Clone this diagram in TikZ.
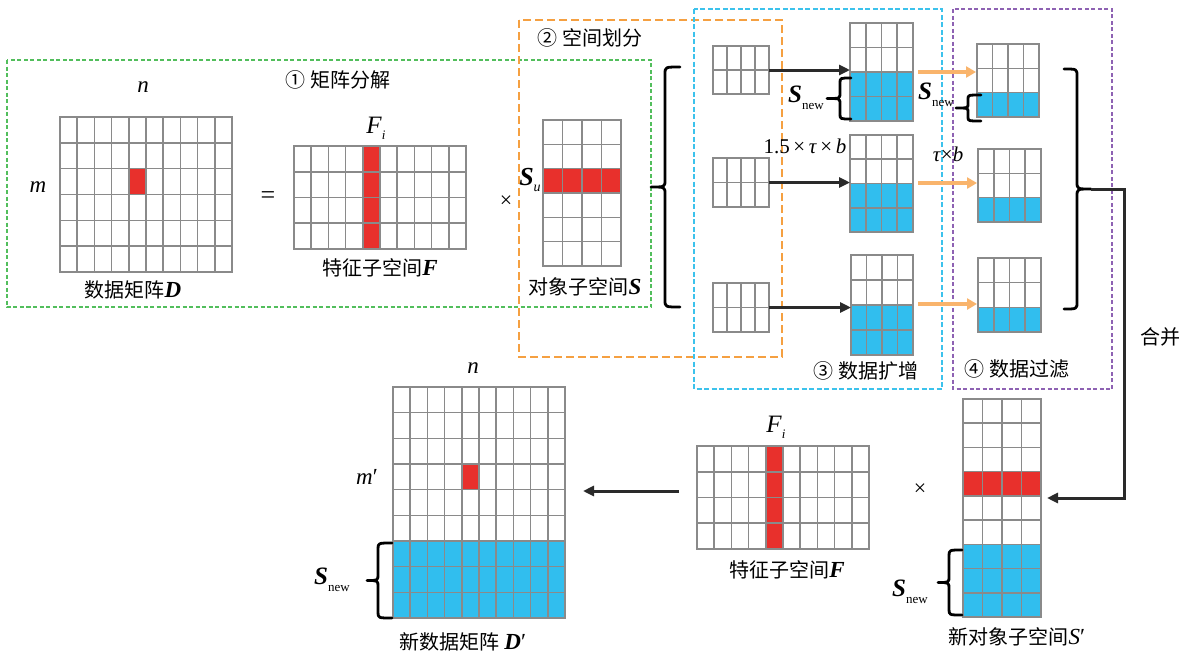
\documentclass[tikz,border=0pt]{standalone}
\usepackage{fontspec}
\setmainfont{Liberation Serif}
\newfontfamily\cjk{Noto Sans CJK SC}
\usetikzlibrary{arrows.meta}
\definecolor{cred}{HTML}{E8302C}
\definecolor{cblue}{HTML}{31BEEE}
\definecolor{gridgray}{HTML}{8A8A8A}
\definecolor{dgreen}{HTML}{52BE5C}
\definecolor{dorange}{HTML}{F5A041}
\definecolor{dcyan}{HTML}{3CC2EC}
\definecolor{dpurple}{HTML}{8E62B3}
\definecolor{aorange}{HTML}{F9B46C}
\definecolor{ablack}{HTML}{2A2A2A}
\tikzset{
  matbox/.style={draw=gridgray, line width=1.6pt, inner sep=0pt, outer sep=0pt},
  gridline/.style={draw=gridgray, line width=1.6pt},
  bracestroke/.style={draw=black, line width=2.8pt, line cap=round, line join=round},
  blk/.style={draw=ablack, line width=3pt, -{Triangle[length=11pt,width=10pt]}},
  org/.style={draw=aorange, line width=3.6pt, -{Triangle[length=10pt,width=11pt]}},
  lbl/.style={inner sep=0pt, anchor=center},
}
\newcommand\setgrid[6]{\def\gxa{#1}\def\gya{#2}\def\gxb{#3}\def\gyb{#4}\def\gnc{#5}\def\gnr{#6}%
  \pgfmathsetmacro\gcw{(#3-#1)/#5}\pgfmathsetmacro\gch{(#4-#2)/#6}}
\newcommand\cells[5]{\fill[#1] ({\gxa+#2*\gcw},{\gya+#3*\gch}) rectangle ({\gxa+(#4+1)*\gcw},{\gya+(#5+1)*\gch});}
\newcommand\drawgrid[1]{%
  \pgfmathsetmacro\gW{\gxb-\gxa}\pgfmathsetmacro\gH{\gyb-\gya}%
  \node[matbox, minimum width=\gW pt, minimum height=\gH pt] (#1) at ({(\gxa+\gxb)/2},{(\gya+\gyb)/2}) {};
  \pgfmathtruncatemacro\gcm{\gnc-1}\pgfmathtruncatemacro\grm{\gnr-1}%
  \foreach \i in {1,...,\gcm}{\draw[gridline] ({\gxa+\i*\gcw},\gya) -- ({\gxa+\i*\gcw},\gyb);}
  \foreach \j in {1,...,\grm}{\draw[gridline] (\gxa,{\gya+\j*\gch}) -- (\gxb,{\gya+\j*\gch});}
}
% brace: tipx, vx, endx, y0, y1, r
\newcommand\brc[6]{\pgfmathsetmacro\bym{(#4+#5)/2}%
  \draw[bracestroke] (#3,#4) .. controls (#2,#4) .. (#2,#4+#6) -- (#2,\bym-#6) .. controls (#2,\bym) .. (#1,\bym)
    .. controls (#2,\bym) .. (#2,\bym+#6) -- (#2,#5-#6) .. controls (#2,#5) .. (#3,#5);}
\newcommand\bS{\textbf{\textit{S}}}
\newcommand\Snew{{\fontsize{25}{25}\selectfont\bS}\raisebox{-7pt}{\fontsize{13}{13}\selectfont new}}
\begin{document}
\begin{tikzpicture}[x=1pt,y=-1pt]
\useasboundingbox (0,0) rectangle (1188,654);
\fill[white] (0,0) rectangle (1188,654);

% dashed frames
\draw[dgreen, line width=1.7pt, dash pattern=on 4pt off 2.5pt] (7,60) rectangle (651,307);
\draw[dorange, line width=1.9pt, dash pattern=on 8pt off 4pt] (519,20) rectangle (782,357);
\draw[dcyan, line width=1.7pt, dash pattern=on 5pt off 2.5pt] (694,9) rectangle (942,389);
\draw[dpurple, line width=1.7pt, dash pattern=on 4pt off 2.5pt] (953,9) rectangle (1112,389);

% ---------- matrix D
\setgrid{60}{117}{232}{272}{10}{6}
\cells{cred}{4}{2}{4}{2}
\drawgrid{D}
% ---------- F
\setgrid{294}{146}{466}{249}{10}{4}
\cells{cred}{4}{0}{4}{3}
\drawgrid{F}
% ---------- S
\setgrid{543}{120}{621}{266}{4}{6}
\cells{cred}{0}{2}{3}{2}
\drawgrid{S}
% ---------- small grids
\setgrid{713}{46}{769}{94}{4}{2}\drawgrid{s1}
\setgrid{713}{158}{769}{207}{4}{2}\drawgrid{s2}
\setgrid{713}{283}{769}{332}{4}{2}\drawgrid{s3}
% ---------- augmented
\setgrid{850}{23}{913}{121}{4}{4}\cells{cblue}{0}{2}{3}{3}\drawgrid{m1}
\setgrid{850}{135}{913}{232}{4}{4}\cells{cblue}{0}{2}{3}{3}\drawgrid{m2}
\setgrid{851}{255}{913}{355}{4}{4}\cells{cblue}{0}{2}{3}{3}\drawgrid{m3}
% ---------- filtered
\setgrid{977}{44}{1039}{117}{4}{3}\cells{cblue}{0}{2}{3}{2}\drawgrid{r1}
\setgrid{978}{149}{1041}{222}{4}{3}\cells{cblue}{0}{2}{3}{2}\drawgrid{r2}
\setgrid{978}{258}{1041}{332}{4}{3}\cells{cblue}{0}{2}{3}{2}\drawgrid{r3}
% ---------- S'
\setgrid{963}{399}{1041}{617}{4}{9}
\cells{cred}{0}{3}{3}{3}\cells{cblue}{0}{6}{3}{8}
\drawgrid{Sp}
% ---------- F bottom
\setgrid{697}{446}{869}{549}{10}{4}
\cells{cred}{4}{0}{4}{3}
\drawgrid{F2}
% ---------- D'
\setgrid{393}{387}{565}{618}{10}{9}
\cells{cred}{4}{3}{4}{3}\cells{cblue}{0}{6}{9}{8}
\drawgrid{Dp}

% braces
\brc{651}{665}{680}{67}{307}{7}
\brc{1091}{1077}{1064}{69}{309}{7}
\brc{827}{840}{851}{78}{119}{5}
\brc{956}{968}{981}{95}{121}{4}
\brc{367}{378}{392}{543}{618}{6}
\brc{938}{949}{962}{550}{615}{6}

% arrows
\draw[blk] (s1.east) -- (m1.west |- s1.east);
\draw[blk] (s2.east) -- (m2.west |- s2.east);
\draw[blk] (s3.east) -- (m3.west |- s3.east);
\draw[org] ([xshift=5pt]m1.east |- 0,72) -- ([xshift=-1pt]r1.west |- 0,72);
\draw[org] ([xshift=5pt]m2.east |- 0,183) -- ([xshift=-1pt]r2.west |- 0,183);
\draw[org] ([xshift=5pt]m3.east |- 0,304) -- ([xshift=-1pt]r3.west |- 0,304);
\coordinate (mtip) at (1091,189);
\coordinate (mcorner) at (1124,189);
\draw[blk] (mtip) -- (mcorner) |- ([xshift=6pt]Sp.east |- 0,498);
\draw[blk] ([xshift=-18pt]F2.west |- 0,491) -- ([xshift=18pt]Dp.east |- 0,491);

% labels
\node[lbl] (t1) at (338,80) {\cjk\fontsize{20}{20}\selectfont ① 矩阵分解};
\node[lbl] (t2) at (590,38) {\cjk\fontsize{20}{20}\selectfont ② 空间划分};
\node[lbl] (t3) at (866,371) {\cjk\fontsize{20}{20}\selectfont ③ 数据扩增};
\node[lbl] (t4) at (1017,369) {\cjk\fontsize{20}{20}\selectfont ④ 数据过滤};
\node[lbl] (t5) at (1160,337) {\cjk\fontsize{20}{20}\selectfont 合并};

\node[lbl] (lD) at (133,290) {{\cjk\fontsize{20}{20}\selectfont 数据矩阵}{\fontsize{23}{23}\selectfont\textbf{\textit{D}}}};
\node[lbl] (lF) at (380,268) {{\cjk\fontsize{20}{20}\selectfont 特征子空间}{\fontsize{23}{23}\selectfont\textbf{\textit{F}}}};
\node[lbl] (lS) at (585,287) {{\cjk\fontsize{20}{20}\selectfont 对象子空间}{\fontsize{23}{23}\selectfont\textbf{\textit{S}}}};
\node[lbl] (lF2) at (787,570) {{\cjk\fontsize{20}{20}\selectfont 特征子空间}{\fontsize{23}{23}\selectfont\textbf{\textit{F}}}};
\node[lbl] (lSp) at (1017,637) {{\cjk\fontsize{20}{20}\selectfont 新对象子空间}{\fontsize{23}{23}\selectfont\textit{S}′}};
\node[lbl] (lDp) at (463,642) {{\cjk\fontsize{20}{20}\selectfont 新数据矩阵 }{\fontsize{23}{23}\selectfont\textbf{\textit{D}}′}};

\node[lbl] (n1) at (143,87) {\fontsize{23}{23}\selectfont\textit{n}};
\node[lbl] (m1l) at (38,187) {\fontsize{23}{23}\selectfont\textit{m}};
\node[lbl] (eq) at (268,198) {\fontsize{26}{26}\selectfont =};
\node[lbl] (x1) at (506,202) {\fontsize{22}{22}\selectfont ×};
\node[lbl] (x2) at (920,490) {\fontsize{22}{22}\selectfont ×};
\node[lbl] (Fi1) at (376,128) {\fontsize{25}{25}\selectfont\textit{F}\raisebox{-6pt}{\fontsize{13}{13}\selectfont\textit{i}}};
\node[lbl] (Fi2) at (776,427) {\fontsize{25}{25}\selectfont\textit{F}\raisebox{-6pt}{\fontsize{13}{13}\selectfont\textit{i}}};
\node[lbl] (Su) at (530,180) {\fontsize{26}{26}\selectfont\bS\raisebox{-6pt}{\fontsize{14}{14}\selectfont\textit{u}}};
\node[lbl] (sn1) at (806,98) {\Snew};
\node[lbl] (sn2) at (936,95) {\Snew};
\node[lbl] (sn3) at (332,580) {\Snew};
\node[lbl] (sn4) at (910,592) {\Snew};
\node[lbl] (e1) at (805,146) {\fontsize{21}{21}\selectfont 1.5\,×\,\textit{τ}\,×\,\textit{b}};
\node[lbl] (e2) at (948,154) {\fontsize{21}{21}\selectfont\textit{τ}×\textit{b}};
\node[lbl] (n2) at (473,368) {\fontsize{23}{23}\selectfont\textit{n}};
\node[lbl] (m2l) at (367,477) {\fontsize{23}{23}\selectfont\textit{m}′};
\end{tikzpicture}
\end{document}
